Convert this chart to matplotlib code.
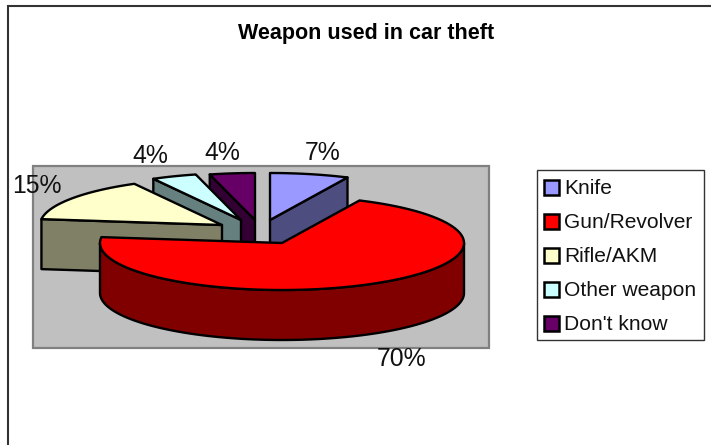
#!/usr/bin/env python
"""
exploded 3d style pie of weapons used in car theft
"""

import numpy as np
import matplotlib
matplotlib.use("Agg")
import matplotlib.pyplot as plt
from matplotlib.patches import Polygon, Rectangle

plt.rcParams['font.family'] = ['Liberation Sans', 'DejaVu Sans']

title = "Weapon used in car theft"
categories = ["Knife", "Gun/Revolver", "Rifle/AKM", "Other weapon", "Don't know"]
shares = [7, 70, 15, 4, 4]

top_colors = ["#9999FF", "#FF0000", "#FFFFCC", "#CCFFFF", "#660066"]
side_colors = ["#4D4D80", "#800000", "#808066", "#668080", "#330033"]

## apex of each exploded slice, in pixels
apex = [(270, 220), (282, 243), (222, 225), (241, 220), (255, 220)]
label_pos = [(323, 153), (402, 359), (37, 186), (150, 156), (222, 153)]

rx, ry, depth = 182, 47, 50
lw = 1.7

fig = plt.figure(figsize=(7.11, 4.45), dpi=100)
ax = fig.add_axes([0, 0, 1, 1])
ax.set_xlim(0, 711)
ax.set_ylim(445, 0)
ax.axis('off')

## chart frame runs off the right and bottom of the picture
ax.plot([8, 8, 720], [460, 6, 6], color="#333333", lw=1.5, solid_joinstyle='miter')
ax.text(366, 34, title, ha='center', va='center', fontsize=15.5, fontweight='bold')

## plot area
ax.add_patch(Rectangle((33, 166), 456, 182, fc="#C0C0C0", ec="#808080", lw=1.6, zorder=1))

def rim(cx, cy, a0, a1, dy=0):
    t = np.radians(np.linspace(a0, a1, 200))
    return np.column_stack([cx + rx*np.sin(t), cy - ry*np.cos(t) + dy])

def draw_poly(pts, color, z):
    ax.add_patch(Polygon(pts, closed=True, fc=color, ec='black', lw=lw,
                         joinstyle='round', zorder=z))

edges = np.concatenate([[0], np.cumsum(shares)]) * 360.0 / sum(shares)

## back slices first, the big red one last
for i, z in zip([4, 3, 2, 0, 1], [2, 3, 4, 5, 6]):
    cx, cy = apex[i]
    a0, a1 = edges[i], edges[i+1]
    c = np.array([cx, cy])
    if i == 1:
        ## outer wall, visible part of the rim only
        top = rim(cx, cy, 90, 270)
        draw_poly(np.vstack([top, top[::-1] + [0, depth]]), side_colors[i], z)
    elif i == 0:
        p = rim(cx, cy, a1, a1)[0]
        draw_poly([c, p, p + [0, depth], c + [0, depth]], side_colors[i], z)
    else:
        ## front cut face
        p = rim(cx, cy, a0, a0)[0]
        draw_poly([p, c, c + [0, depth], p + [0, depth]], side_colors[i], z)
    draw_poly(np.vstack([c, rim(cx, cy, a0, a1)]), top_colors[i], z)

## data labels
for share, (x, y) in zip(shares, label_pos):
    ax.text(x, y, "%d%%" % share, ha='center', va='center', fontsize=17.8,
            color="#111111", zorder=8)

## legend
ax.add_patch(Rectangle((537, 170), 167, 170, fc='white', ec="#333333", lw=1.0, zorder=7))
legend_y = [187, 221, 255, 289, 323]
for name, color, y in zip(categories, top_colors, legend_y):
    ax.add_patch(Rectangle((544, y-7), 14.5, 14.5, fc=color, ec='black', lw=1.8, zorder=8))
    ax.text(564, y+2, name, ha='left', va='center', fontsize=15.1, color="#111111", zorder=8)

fig.savefig("out.png", dpi=100)
